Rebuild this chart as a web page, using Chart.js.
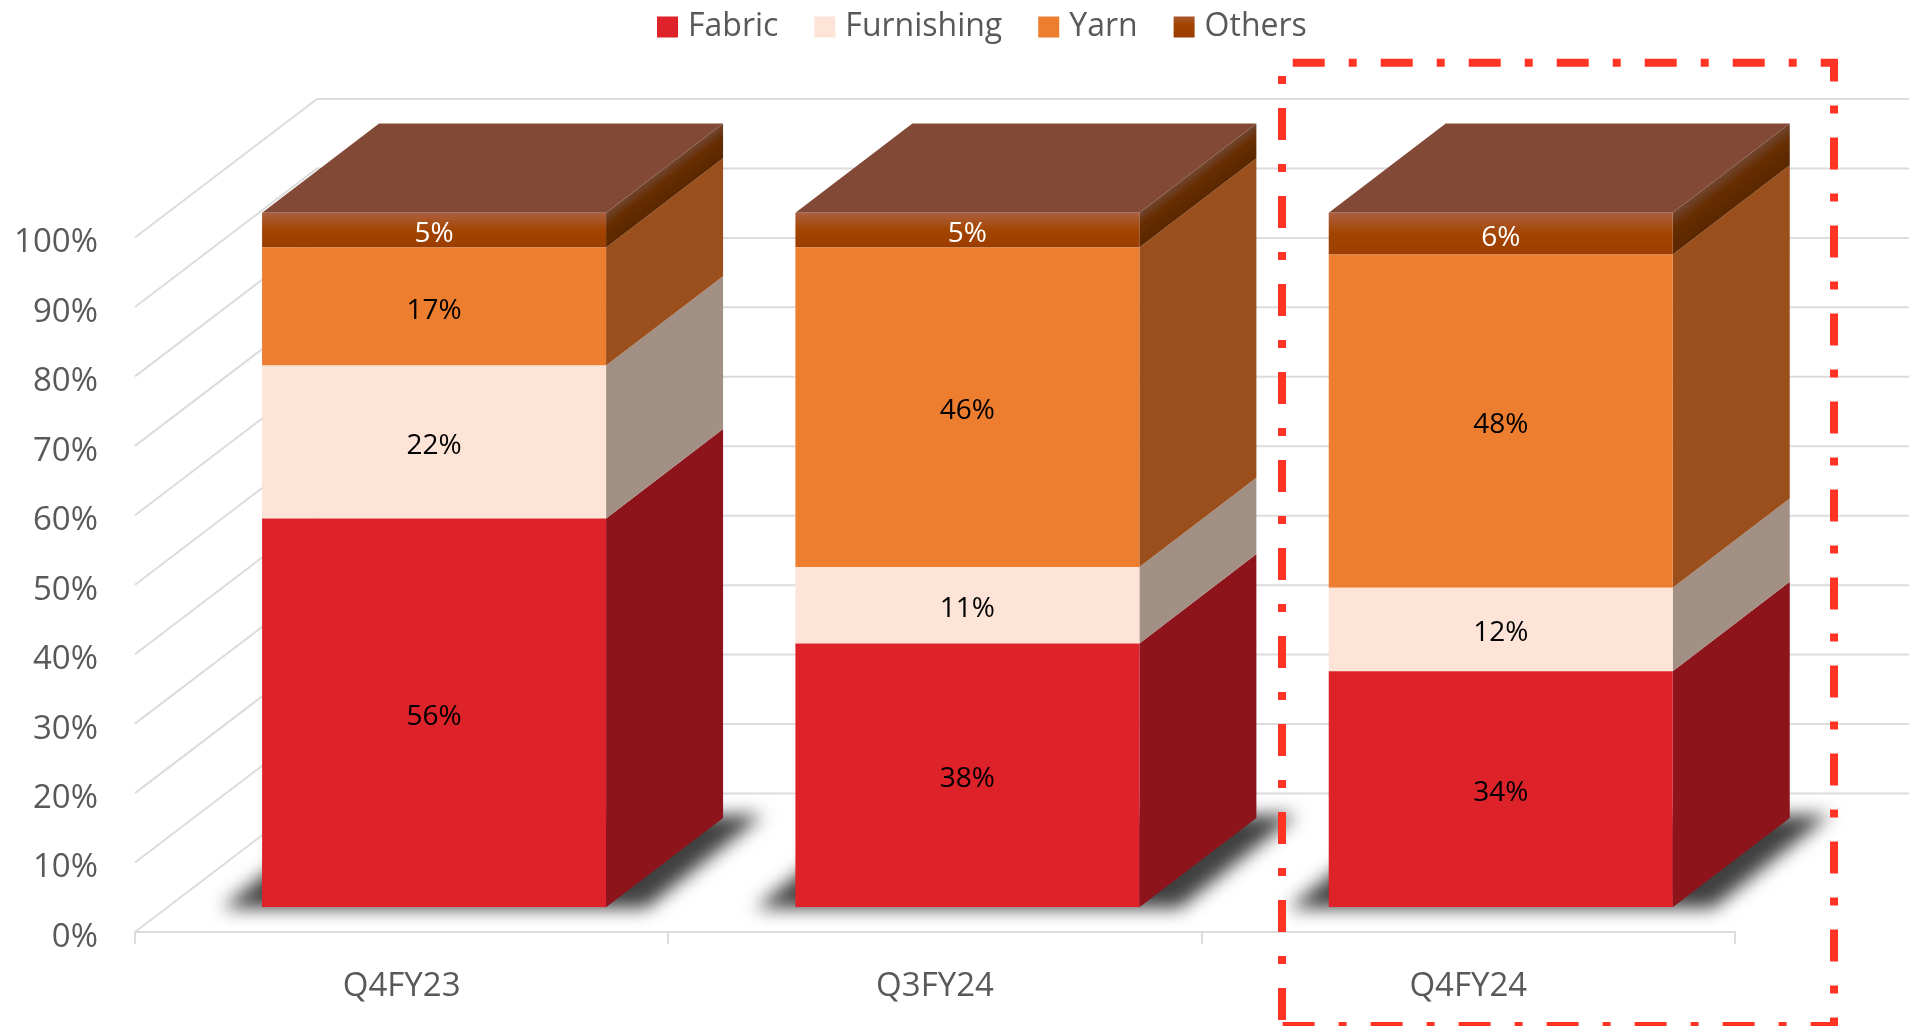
<!DOCTYPE html>
<html>
<head>
<meta charset="utf-8">
<title>Product mix</title>
<script src="https://cdn.jsdelivr.net/npm/chart.js@4"></script>
<style>
    html, body { margin: 0; padding: 0; background: #fff; overflow: hidden; }
    #box { width: 1909px; height: 1026px; }
</style>
</head>
<body>
<div id="box"><canvas id="myChart"></canvas></div>
<script>
const categories = ['Q4FY23', 'Q3FY24', 'Q4FY24']

const fabric = [56, 38, 34]
const furnishing = [22, 11, 12]
const yarn = [17, 46, 48]
const others = [5, 5, 6]

const fabricColor = '#dd2229'
const furnishingColor = '#fde4d7'
const yarnColor = '#ed7d2f'

const sideColors = ['#8c141a', '#a29085', '#9a4f1c', null]
const topColor = '#824a36'
const gridColor = '#dcdcdc'
const textColor = '#595959'
const fontName = '"Open Sans", sans-serif'

// fake 3d: how far the front of the bars sits from the axis, how deep a bar is, how deep the floor is
const front = { x: 32.4, y: 24.7 }
const depth = { x: 117, y: 89.3 }
const wall = { x: 182, y: 138.5 }

function othersGradient(context) {
    const y = context.chart.scales.y
    const g = context.chart.ctx.createLinearGradient(0, y.getPixelForValue(100), 0, y.getPixelForValue(100 - others[context.dataIndex]))
    g.addColorStop(0, '#ac5f40')
    g.addColorStop(0.5, '#a34500')
    g.addColorStop(1, '#9a3d00')
    return g
}

function poly(ctx, points, fill) {
    ctx.beginPath()
    points.forEach((p, i) => i ? ctx.lineTo(p[0], p[1]) : ctx.moveTo(p[0], p[1]))
    ctx.closePath()
    ctx.fillStyle = fill
    ctx.fill()
}

const fake3d = {
    id: 'fake3d',

    afterLayout(chart) {
        // legend sits above the wall, not centered on the plot
        chart.legend.left = 621
        chart.legend.top = -31
    },

    beforeDatasetsDraw(chart) {
        const ctx = chart.ctx
        const area = chart.chartArea
        const y = chart.scales.y

        // side wall and back wall
        ctx.save()
        ctx.strokeStyle = gridColor
        ctx.lineWidth = 2
        y.ticks.forEach(t => {
            const py = y.getPixelForValue(t.value)
            ctx.beginPath()
            ctx.moveTo(area.left, py)
            ctx.lineTo(area.left + wall.x, py - wall.y)
            ctx.lineTo(area.right + wall.x, py - wall.y)
            ctx.stroke()
        })
        ctx.restore()

        ctx.save()
        ctx.translate(front.x, -front.y)

        // floor shadows
        chart.getDatasetMeta(0).data.forEach(bar => {
            const l = bar.x - bar.width / 2
            const r = bar.x + bar.width / 2
            ctx.save()
            ctx.filter = 'blur(9px)'
            poly(ctx, [
                [l - 40, bar.base + 1],
                [r + 40, bar.base + 1],
                [r + depth.x + 40, bar.base - depth.y - 3],
                [l + depth.x - 40, bar.base - depth.y - 3]
            ], '#404040')
            ctx.restore()
        })

        // right faces, bottom up, then the lid
        chart.data.datasets.forEach((ds, i) => {
            chart.getDatasetMeta(i).data.forEach(bar => {
                const r = bar.x + bar.width / 2
                let fill = sideColors[i]
                if (!fill) {
                    const len = Math.hypot(depth.x, depth.y)
                    const h = (bar.base - bar.y) * depth.x / len
                    fill = ctx.createLinearGradient(r, bar.y, r + h * depth.y / len, bar.y + h * depth.x / len)
                    fill.addColorStop(0, '#71452f')
                    fill.addColorStop(0.4, '#662d00')
                    fill.addColorStop(1, '#5a2700')
                }
                poly(ctx, [
                    [r, bar.y],
                    [r + depth.x, bar.y - depth.y],
                    [r + depth.x, bar.base - depth.y],
                    [r, bar.base]
                ], fill)
            })
        })
        chart.getDatasetMeta(3).data.forEach(bar => {
            const l = bar.x - bar.width / 2
            const r = bar.x + bar.width / 2
            poly(ctx, [
                [l, bar.y],
                [l + depth.x, bar.y - depth.y],
                [r + depth.x, bar.y - depth.y],
                [r, bar.y]
            ], topColor)
        })
        // stays translated so the library paints the front faces in place
    },

    afterDatasetsDraw(chart) {
        const ctx = chart.ctx

        // data labels
        ctx.font = '28px ' + fontName
        ctx.textAlign = 'center'
        ctx.textBaseline = 'middle'
        chart.data.datasets.forEach((ds, i) => {
            chart.getDatasetMeta(i).data.forEach((bar, j) => {
                ctx.fillStyle = i === 3 ? '#ffffff' : '#000000'
                ctx.fillText(ds.data[j] + '%', bar.x, (bar.y + bar.base) / 2 + 4)
            })
        })
        ctx.restore()

        // red highlight round the last quarter
        ctx.save()
        ctx.strokeStyle = '#ff3424'
        ctx.lineWidth = 8
        ctx.setLineDash([32, 24, 8, 24])
        ctx.lineJoin = 'miter'
        ctx.beginPath()
        ctx.moveTo(1282, 1020)
        ctx.lineTo(1282, 62.7)
        ctx.lineTo(1834, 62.7)
        ctx.lineTo(1834, 1026)
        ctx.lineTo(1282, 1026)
        ctx.stroke()
        ctx.restore()
    }
}

new Chart(document.getElementById('myChart'), {
    type: 'bar',
    data: {
        labels: categories,
        datasets: [
            { label: 'Fabric', data: fabric, backgroundColor: fabricColor },
            { label: 'Furnishing', data: furnishing, backgroundColor: furnishingColor },
            { label: 'Yarn', data: yarn, backgroundColor: yarnColor },
            { label: 'Others', data: others, backgroundColor: othersGradient }
        ]
    },
    options: {
        responsive: true,
        maintainAspectRatio: false,
        animation: false,
        barPercentage: 1,
        categoryPercentage: 0.645,
        layout: { padding: { top: 153.5, right: 174, left: 0, bottom: 0 } },
        scales: {
            x: {
                stacked: true,
                afterFit: s => { s.height = 94 },
                border: { color: gridColor, width: 2 },
                grid: { drawOnChartArea: false, color: gridColor, lineWidth: 2, tickLength: 12 },
                ticks: { color: textColor, font: { family: fontName, size: 33 }, padding: 23, maxRotation: 0 }
            },
            y: {
                stacked: true,
                min: 0,
                max: 100,
                afterFit: s => { s.width = 135 },
                border: { display: false },
                grid: { display: false, drawTicks: false },
                ticks: {
                    stepSize: 10,
                    color: textColor,
                    padding: 37,
                    labelOffset: 5.5,
                    font: { family: fontName, size: 33 },
                    callback: v => v + '%'
                }
            }
        },
        plugins: {
            tooltip: { enabled: false },
            legend: {
                position: 'top',
                align: 'start',
                labels: {
                    color: textColor,
                    font: { family: fontName, size: 32 },
                    padding: 42,
                    boxWidth: 9,
                    boxHeight: 9,
                    // thick outline so the swatch sits closer to its text than the library allows
                    generateLabels(chart) {
                        const g = chart.ctx.createLinearGradient(0, 14, 0, 35)
                        g.addColorStop(0, '#ac5f40')
                        g.addColorStop(0.5, '#a34500')
                        g.addColorStop(1, '#9a3d00')
                        return chart.data.datasets.map((ds, i) => {
                            const color = i === 3 ? g : ds.backgroundColor
                            return { text: ds.label, fillStyle: color, strokeStyle: color, lineWidth: 12, fontColor: textColor, datasetIndex: i, hidden: false }
                        })
                    }
                }
            }
        }
    },
    plugins: [fake3d]
})
</script>
</body>
</html>
